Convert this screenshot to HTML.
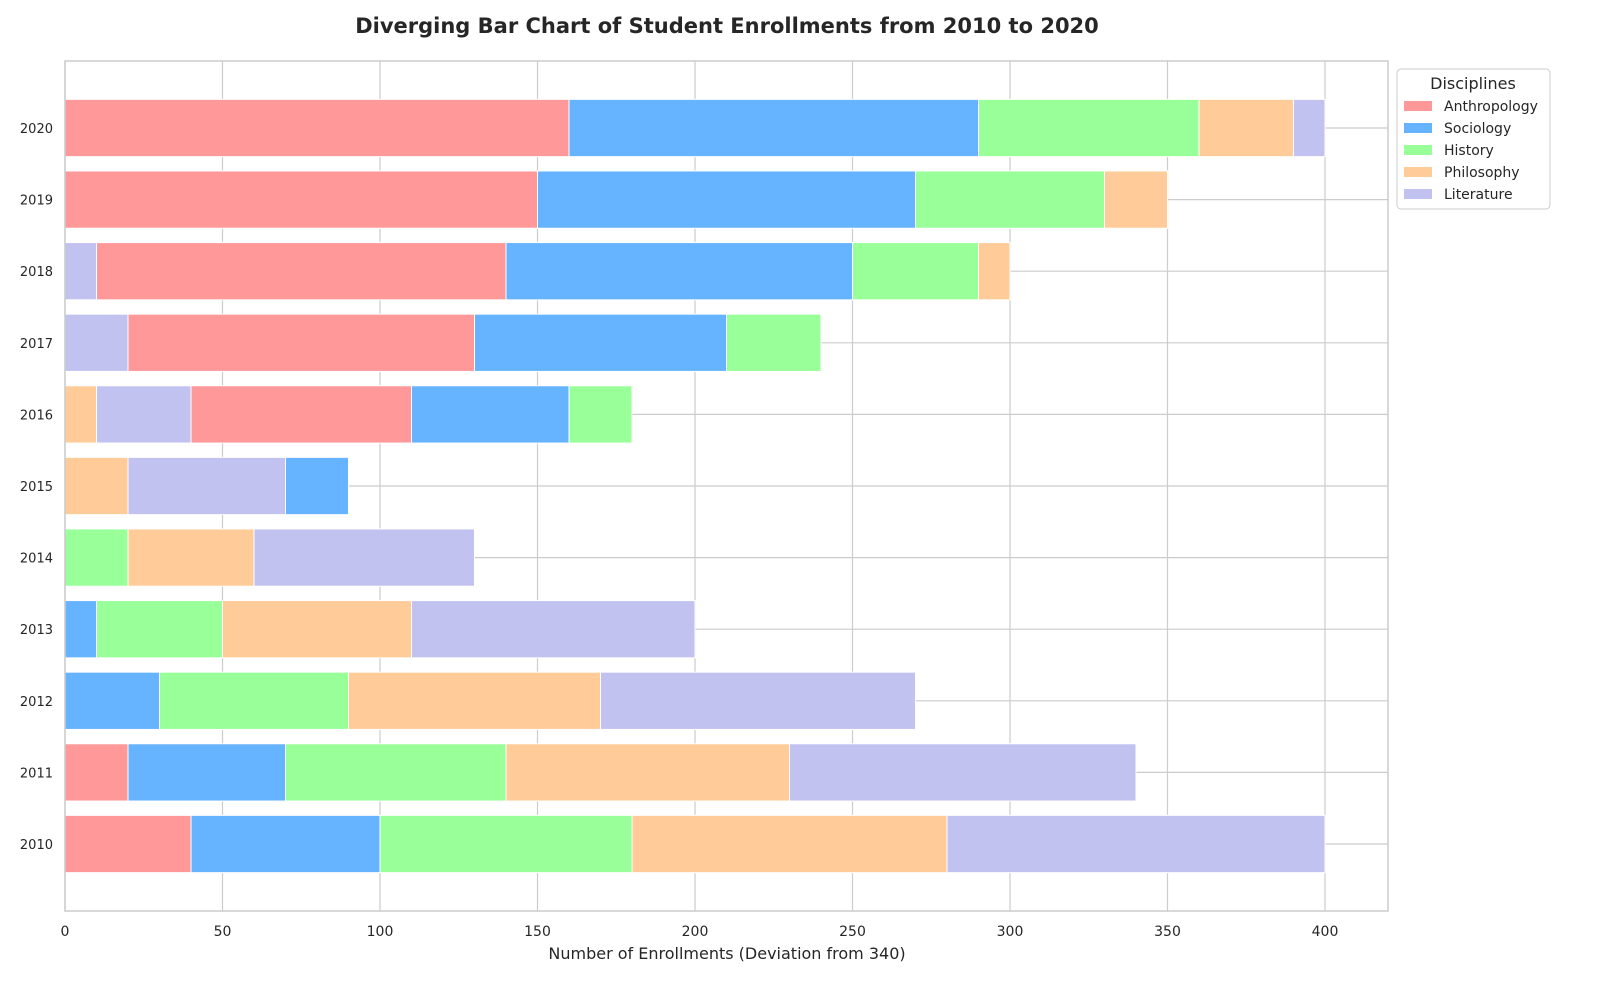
<!DOCTYPE html>
<html><head><meta charset="utf-8"><style>
html,body{margin:0;padding:0;width:1600px;height:1000px;overflow:hidden;background:#fff;font-family:"DejaVu Sans","Liberation Sans",sans-serif;}
svg{display:block;}
svg text{font-family:"DejaVu Sans","Liberation Sans",sans-serif;fill:#262626;}
</style></head><body>
<svg id="c" width="1600" height="1000"></svg>
<script>
const years=[2010,2011,2012,2013,2014,2015,2016,2017,2018,2019,2020];
const disciplines=["Anthropology","Sociology","History","Philosophy","Literature"];
const colors=["#ff9999","#66b3ff","#99ff99","#ffcc99","#c2c2f0"];
const anthropology=[40,20,0,0,0,0,70,110,130,150,160];
const sociology=[60,50,30,10,0,20,50,80,110,120,130];
const history=[80,70,60,40,20,0,20,30,40,60,70];
const philosophy=[100,90,80,60,40,20,10,0,10,20,30];
const literature=[120,110,100,90,70,50,30,20,10,0,10];
const stackOrder=[[0,1,2,3,4],[0,1,2,3,4],[1,2,3,4],[1,2,3,4],[2,3,4],[3,4,1],[3,4,0,1,2],[4,0,1,2],[4,0,1,2,3],[0,1,2,3,4],[0,1,2,3,4]];
const xTicks=[0,50,100,150,200,250,300,350,400];
const series=[anthropology,sociology,history,philosophy,literature];

const L=65,R=1388,T=61,B=911,XMAX=420;
const band=71.6, yc2010=844;
const x=v=>L+v*(R-L)/XMAX;
const y=i=>yc2010-i*band;
const svg=document.getElementById('c');
const NS="http://www.w3.org/2000/svg";
function mk(t,a,p){const e=document.createElementNS(NS,t);for(const k in a)e.setAttribute(k,a[k]);(p||svg).appendChild(e);return e;}

mk('rect',{x:L,y:T,width:R-L,height:B-T,fill:'#fff'});
xTicks.forEach(v=>{
  const g=mk('line',{x1:x(v),x2:x(v),y1:T,y2:B,stroke:'#cccccc','stroke-width':1.2});
  
  
  const t=mk('text',{x:x(v),y:936,'text-anchor':'middle','font-size':14});
  t.textContent=v;
  
  
});
years.forEach((yr,i)=>{
  const g=mk('line',{x1:L,x2:R,y1:y(i),y2:y(i),stroke:'#cccccc','stroke-width':1.2});
  
  
  const t=mk('text',{x:53,y:y(i)+5,'text-anchor':'end','font-size':13});
  t.textContent=yr;
  
  
});
const bh=band*0.8;
years.forEach((yr,i)=>{
  let left=0;
  stackOrder[i].forEach(s=>{
    const v=series[s][i];
    if(v<=0)return;
    const r=mk('rect',{x:x(left),y:y(i)-bh/2,width:x(left+v)-x(left),height:bh,fill:colors[s],stroke:'#fff','stroke-width':1});
    
    
    left+=v;
  });
});
mk('rect',{x:L,y:T,width:R-L,height:B-T,fill:'none',stroke:'#cccccc','stroke-width':1.5});
let t=mk('text',{x:727,y:33,'text-anchor':'middle','font-size':21,'font-weight':'bold'});
t.textContent='Diverging Bar Chart of Student Enrollments from 2010 to 2020';


t=mk('text',{x:727,y:959,'text-anchor':'middle','font-size':16});
t.textContent='Number of Enrollments (Deviation from 340)';


const lg=mk('g',{});


mk('rect',{x:1397,y:69,width:153,height:140,rx:4,fill:'#fff',stroke:'#cccccc','stroke-width':1},lg);
t=mk('text',{x:1473,y:89,'text-anchor':'middle','font-size':16},lg);
t.textContent='Disciplines';
disciplines.forEach((d,k)=>{
  const yy=106+k*22;
  const sw=mk('rect',{x:1404,y:yy-5,width:28,height:10,fill:colors[k]},lg);
  
  
  const tt=mk('text',{x:1444,y:yy+5,'font-size':14},lg);
  tt.textContent=d;
  
  
});
</script>
</body></html>
